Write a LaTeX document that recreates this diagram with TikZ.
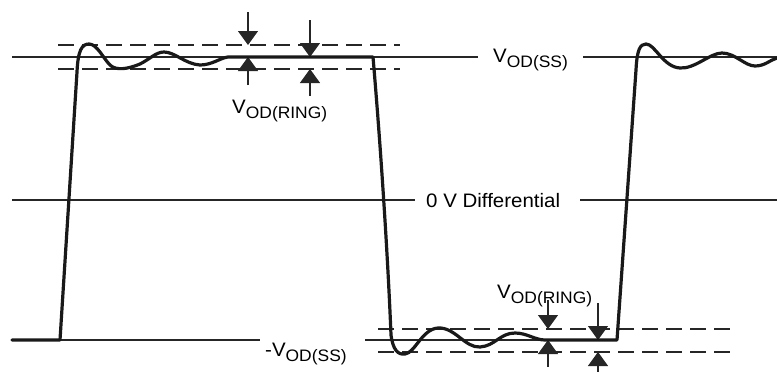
\documentclass[tikz,border=0pt]{standalone}
\usepackage{fontspec}
\setmainfont[FakeStretch=1.05]{Liberation Sans}
\usetikzlibrary{arrows.meta}
\newcommand\vsub[1]{\raisebox{-5.5pt}{\fontsize{16.6}{17}\selectfont #1}}
\tikzset{
  thin line/.style={line width=1.2pt, draw=black!85},
  dash line/.style={line width=1.2pt, draw=black!85, dash pattern=on 16pt off 8pt},
  wave/.style={line width=3.2pt, line join=round, line cap=round, draw=black!90},
  marker/.style={line width=1.2pt, draw=black!85, -{Triangle[width=20pt,length=14pt]}},
  lbl/.style={inner sep=0pt, anchor=base west, font=\fontsize{19.5}{21}\selectfont}
}
\begin{document}
\begin{tikzpicture}[x=1pt,y=-1pt]
\useasboundingbox (0,0) rectangle (777,373);
% reference lines
\draw[thin line] (12,57) -- (478,57);
\draw[thin line] (583,57) -- (777,57);
\draw[thin line] (12,200) -- (415,200);
\draw[thin line] (580,200) -- (777,200);
\draw[thin line] (60,340) -- (260,340);
\draw[thin line] (365,340) -- (617,340);
% dashed ring limits
\draw[dash line] (58,45) -- (400,45);
\draw[dash line] (58,69) -- (400,69);
\draw[dash line] (378,329) -- (733,329);
\draw[dash line] (378,352) -- (733,352);
% labels
\node[lbl] (vss) at (493,62) {V\vsub{OD(SS)}};
\node[lbl] (ring1) at (232,113) {V\vsub{OD(RING)}};
\node[lbl] (zero) at (426,207) {0 V Differential};
\node[lbl] (mvss) at (265,356) {-V\vsub{OD(SS)}};
\node[lbl] (ring2) at (497,298) {V\vsub{OD(RING)}};
% measurement arrows top
\draw[marker] (248,12) -- (248,45);
\draw[marker] (248,85) -- (248,57);
\draw[marker] (310,20) -- (310,57);
\draw[marker] (310,96) -- (310,69);
% measurement arrows bottom
\draw[marker] (548,300) -- (548,329);
\draw[marker] (548,367) -- (548,340);
\draw[marker] (598,303) -- (598,340);
\draw[marker] (598,372) -- (598,352);
% waveform
\draw[wave] (12,340) -- (60,340) -- (77,72)
  .. controls (78,50) and (82,44) .. (89,44)
  .. controls (97,44) and (103,58) .. (110,65)
  .. controls (116,71) and (128,69) .. (140,64)
  .. controls (150,59) and (156,52) .. (164,52)
  .. controls (175,52) and (185,64) .. (200,65)
  .. controls (212,65) and (220,58) .. (228,57)
  -- (373,57)
  .. controls (381,150) and (388,260) .. (391,335)
  .. controls (393,350) and (398,355) .. (405,354)
  .. controls (415,353) and (422,329) .. (438,328)
  .. controls (455,327) and (465,348) .. (480,347)
  .. controls (495,346) and (500,333) .. (515,333)
  .. controls (527,333) and (535,340) .. (545,340)
  -- (617,340) -- (636,70)
  .. controls (637,50) and (640,44) .. (646,44)
  .. controls (655,44) and (663,67) .. (680,68)
  .. controls (695,69) and (710,53) .. (722,53)
  .. controls (735,53) and (745,66) .. (755,66)
  .. controls (765,66) and (770,60) .. (777,58);
\end{tikzpicture}
\end{document}
